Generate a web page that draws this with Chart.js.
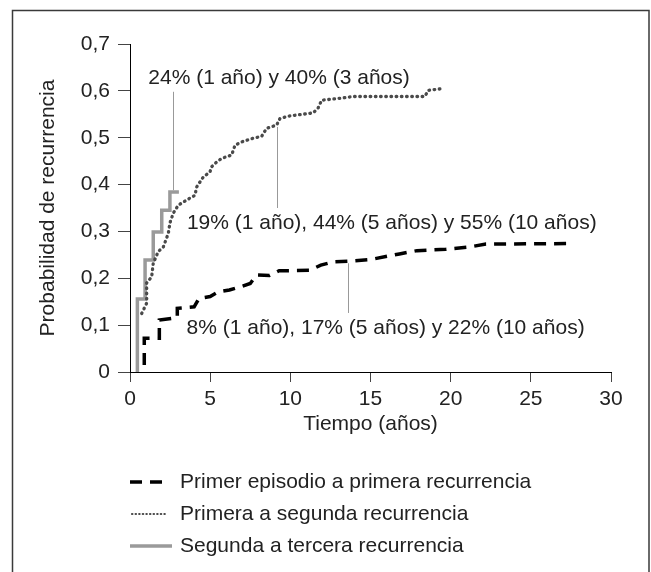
<!DOCTYPE html>
<html>
<head>
<meta charset="utf-8">
<script src="https://cdn.jsdelivr.net/npm/chart.js@4.4.1/dist/chart.umd.min.js"></script>
<style>
  html, body { margin: 0; padding: 0; background: #fff; }
  canvas { display: block; }
</style>
</head>
<body>
<canvas id="chart" width="651" height="572"></canvas>
<script>
// Tick labels
const yTickLabels = ['0', '0,1', '0,2', '0,3', '0,4', '0,5', '0,6', '0,7']

// Primer episodio a primera recurrencia (dashed black)
const firstTimes = [0.89, 0.89, 1.83, 1.83, 2.95, 2.95, 4.0, 4.3, 5.0, 5.5, 6.2, 6.9, 7.5, 7.9, 8.7, 9.3, 11.2, 11.9, 12.7, 13.9, 15.0, 16.8, 17.9, 19.7, 21.2, 22.2, 27.3]
const firstProb  = [0.015, 0.072, 0.072, 0.111, 0.116, 0.136, 0.139, 0.157, 0.161, 0.171, 0.175, 0.182, 0.189, 0.207, 0.206, 0.216, 0.217, 0.228, 0.235, 0.237, 0.240, 0.252, 0.259, 0.262, 0.267, 0.273, 0.274]

// Primera a segunda recurrencia (dotted)
const secondTimes = [0.73, 1.04, 1.04, 1.35, 1.45, 1.76, 2.08, 2.39, 2.49, 2.7, 3.01, 3.53, 4.05, 4.16, 4.57, 4.99, 5.09, 5.4, 5.72, 6.34, 6.55, 6.96, 7.59, 8.21, 8.52, 9.15, 9.35, 9.87, 11.43, 11.74, 11.95, 13.09, 13.92, 18.39, 18.6, 19.53]
const secondProb  = [0.125, 0.147, 0.19, 0.203, 0.232, 0.257, 0.267, 0.296, 0.318, 0.339, 0.356, 0.367, 0.377, 0.395, 0.416, 0.427, 0.438, 0.448, 0.456, 0.463, 0.484, 0.491, 0.498, 0.503, 0.52, 0.527, 0.541, 0.546, 0.553, 0.564, 0.58, 0.584, 0.588, 0.588, 0.601, 0.605]

// Segunda a tercera recurrencia (gray steps)
const thirdTimes = [0.46, 0.46, 0.94, 1.45, 1.98, 2.49, 3.05]
const thirdProb  = [0, 0.156, 0.239, 0.299, 0.345, 0.384, 0.384]

const seriesLabels = [
  'Primer episodio a primera recurrencia',
  'Primera a segunda recurrencia',
  'Segunda a tercera recurrencia'
]

// Callout texts with their anchor (x, y) and leader line (x, y from, y to)
const notes = [
  { text: '24% (1 año) y 40% (3 años)', x: 1.14, y: 0.627, lineX: 2.7, lineFrom: 0.598, lineTo: 0.388 },
  { text: '19% (1 año), 44% (5 años) y 55% (10 años)', x: 3.55, y: 0.317, lineX: 9.18, lineFrom: 0.523, lineTo: 0.35 },
  { text: '8% (1 año), 17% (5 años) y 22% (10 años)', x: 3.53, y: 0.094, lineX: 13.6, lineFrom: 0.232, lineTo: 0.126 }
]

const FONT = "'Liberation Sans', Arial, Helvetica, sans-serif"
const TEXT = '#222'

const toPoints = (xs, ys) => xs.map((x, i) => ({ x: x, y: ys[i] }))

// Outer frame
const framePlugin = {
  id: 'frame',
  beforeDraw(chart) {
    const ctx = chart.ctx
    ctx.save()
    ctx.strokeStyle = '#3a3a3a'
    ctx.lineWidth = 1.5
    ctx.beginPath()
    ctx.moveTo(12.5, 600)
    ctx.lineTo(12.5, 10.5)
    ctx.lineTo(649, 10.5)
    ctx.lineTo(649, 600)
    ctx.stroke()
    ctx.restore()
  }
}

// Callouts with thin leader lines
const notesPlugin = {
  id: 'notes',
  afterDatasetsDraw(chart) {
    const { ctx, scales: { x, y } } = chart
    ctx.save()
    ctx.strokeStyle = '#999'
    ctx.lineWidth = 1
    notes.forEach(n => {
      const px = Math.round(x.getPixelForValue(n.lineX)) + 0.5
      ctx.beginPath()
      ctx.moveTo(px, y.getPixelForValue(n.lineFrom))
      ctx.lineTo(px, y.getPixelForValue(n.lineTo))
      ctx.stroke()
    })
    ctx.fillStyle = TEXT
    ctx.font = '21px ' + FONT
    ctx.textAlign = 'left'
    ctx.textBaseline = 'middle'
    notes.forEach(n => {
      ctx.fillText(n.text, x.getPixelForValue(n.x), y.getPixelForValue(n.y))
    })
    ctx.restore()
  }
}

// Vertical legend under the x axis title
const legendPlugin = {
  id: 'lineLegend',
  afterDraw(chart) {
    const { ctx, chartArea } = chart
    const left = chartArea.left
    const rows = [110, 142, 174]
    ctx.save()
    chart.data.datasets.forEach((ds, i) => {
      const yy = chartArea.bottom + rows[i]
      ctx.strokeStyle = ds.borderColor
      ctx.lineWidth = ds.legendWidth
      ctx.lineCap = ds.borderCapStyle || 'butt'
      ctx.setLineDash(ds.legendDash || ds.borderDash || [])
      ctx.beginPath()
      ctx.moveTo(left + (ds.legendStart || 0), yy)
      ctx.lineTo(left + ds.legendLen, yy)
      ctx.stroke()
      ctx.setLineDash([])
      ctx.fillStyle = TEXT
      ctx.font = '21px ' + FONT
      ctx.textAlign = 'left'
      ctx.textBaseline = 'middle'
      ctx.fillText(ds.label, left + 50, yy)
    })
    ctx.restore()
  }
}

Chart.defaults.font.family = FONT
Chart.defaults.font.size = 21
Chart.defaults.color = TEXT

new Chart(document.getElementById('chart'), {
  type: 'line',
  data: {
    datasets: [
      {
        label: seriesLabels[0],
        data: toPoints(firstTimes, firstProb),
        borderColor: '#000',
        borderWidth: 3.5,
        borderDash: [12, 8],
        legendWidth: 3.5,
        legendLen: 38,
        pointRadius: 0,
        tension: 0
      },
      {
        label: seriesLabels[1],
        data: toPoints(secondTimes, secondProb),
        borderColor: '#4a4a4a',
        borderWidth: 3.3,
        borderDash: [0.6, 4.6],
        borderCapStyle: 'round',
        legendWidth: 2.2,
        legendDash: [0.4, 3.2],
        legendStart: 2,
        legendLen: 38,
        pointRadius: 0,
        tension: 0
      },
      {
        label: seriesLabels[2],
        data: toPoints(thirdTimes, thirdProb),
        borderColor: '#9a9a9a',
        borderWidth: 3.5,
        stepped: true,
        legendWidth: 3.5,
        legendLen: 42,
        pointRadius: 0
      }
    ]
  },
  options: {
    responsive: false,
    animation: false,
    layout: { padding: { left: 12, top: 44, right: 40, bottom: 135 } },
    plugins: {
      legend: { display: false },
      tooltip: { enabled: false }
    },
    scales: {
      x: {
        type: 'linear',
        min: 0,
        max: 30,
        afterFit: scale => { scale.height = 65 },
        ticks: { stepSize: 5, padding: 5, maxRotation: 0 },
        grid: { drawOnChartArea: false, tickLength: 10, color: '#444' },
        border: { color: '#000', width: 1 },
        title: { display: true, text: 'Tiempo (años)', padding: { top: 0, bottom: 0 } }
      },
      y: {
        min: 0,
        max: 0.7,
        afterFit: scale => { scale.width = 118 },
        ticks: {
          stepSize: 0.1,
          padding: 8,
          callback: (value, index) => yTickLabels[index]
        },
        grid: { drawOnChartArea: false, tickLength: 12, color: '#444' },
        border: { color: '#000', width: 1 },
        title: { display: true, text: 'Probabilidad de recurrencia', padding: { top: 24, bottom: 0 } }
      }
    }
  },
  plugins: [framePlugin, notesPlugin, legendPlugin]
})
</script>
</body>
</html>
